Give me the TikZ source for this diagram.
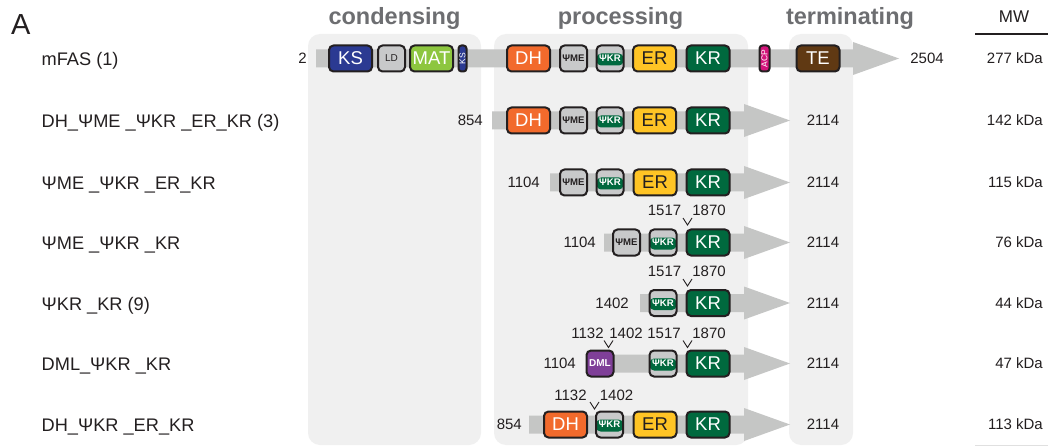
\documentclass[tikz,border=0pt]{standalone}
\usepackage{fontspec}
\setmainfont{Liberation Sans}

\definecolor{ink}{HTML}{231F20}
\definecolor{panelgray}{HTML}{F0F0F0}
\definecolor{bargray}{HTML}{C5C6C5}
\definecolor{boxgray}{HTML}{C8C9CA}
\definecolor{ksblue}{HTML}{2B3A92}
\definecolor{matgreen}{HTML}{8DC63F}
\definecolor{dhorange}{HTML}{F26A2C}
\definecolor{eryellow}{HTML}{FFC425}
\definecolor{krgreen}{HTML}{00693E}
\definecolor{acpmag}{HTML}{D3147B}
\definecolor{tebrown}{HTML}{603913}
\definecolor{dmlpurple}{HTML}{7F3F98}
\definecolor{titlegray}{HTML}{6D6E71}

% grey polypeptide bar ending in an arrow head: start, head base, tip, y
\newcommand{\fasbar}[4]{%
  \fill[bargray] (#1,#4-9) -- (#2,#4-9) -- (#2,#4-16.5) -- (#3,#4)
    -- (#2,#4+16.5) -- (#2,#4+9) -- (#1,#4+9) -- cycle;}
% small "v" marking a construct boundary: x, top y
\newcommand{\cutv}[2]{%
  \draw[ink, line width=0.9pt] (#1-4.5,#2) -- (#1,#2+7) -- (#1+4.5,#2);}

\tikzset{
  panel/.style={fill=panelgray, rounded corners=12pt},
  title/.style={anchor=base, inner sep=0pt, text=titlegray,
    font=\fontsize{23.5}{23.5}\selectfont\bfseries},
  lbl/.style={anchor=base west, inner sep=0pt, text=ink,
    font=\fontsize{18.2}{18.2}\selectfont},
  numL/.style={anchor=east, inner sep=0pt, text=ink,
    font=\fontsize{15}{15}\selectfont},
  numC/.style={anchor=center, inner sep=0pt, text=ink,
    font=\fontsize{15}{15}\selectfont},
  mwval/.style={anchor=east, inner sep=0pt, text=ink,
    font=\fontsize{15}{15}\selectfont},
  dom/.style={draw=ink, line width=2pt, rounded corners=4.5pt, inner sep=0pt,
    minimum height=26pt, text=white},
  bigdom/.style={dom, minimum width=43pt,
    font=\fontsize{18.5}{18.5}\selectfont},
  smalldom/.style={dom, minimum width=27pt, fill=boxgray, text=ink,
    font=\fontsize{10}{10}\selectfont},
  medom/.style={smalldom, font=\fontsize{9.6}{9.6}\selectfont\bfseries},
  krdom/.style={smalldom, text=white, font=\fontsize{9.6}{9.6}\selectfont\bfseries,
    path picture={\fill[krgreen]
      ([yshift=6pt]path picture bounding box.south west) rectangle
      ([yshift=-8pt]path picture bounding box.north east);}},
  dmldom/.style={smalldom, fill=dmlpurple, text=white,
    font=\fontsize{10}{10}\selectfont\bfseries},
  narrowdom/.style={dom, rotate=90, rounded corners=3pt, minimum width=26pt,
    minimum height=8pt, font=\fontsize{8.5}{8.5}\selectfont},
}

\begin{document}
\begin{tikzpicture}[x=1pt, y=-1pt]
\fill[white] (0,0) rectangle (1048,446);
\useasboundingbox (0,0) rectangle (1048,446);

% module panels
\fill[panel] (308,34) rectangle (481,445);
\fill[panel] (494,34) rectangle (748,445);
\fill[panel] (789,34) rectangle (853,445);

% headings
\node[anchor=base west, inner sep=0pt, text=ink,
  font=\fontsize{29}{29}\selectfont] (panelA) at (11,35) {A};
\node[title] (tcond) at (394.5,25) {condensing};
\node[title] (tproc) at (620.5,25) {processing};
\node[title] (tterm) at (850,25) {terminating};
\node[anchor=base, inner sep=0pt, text=ink,
  font=\fontsize{17}{17}\selectfont] (mwhead) at (1014,23) {MW};
\draw[ink, line width=2pt] (975,34) -- (1048,34);
\draw[black!12, line width=1pt] (975,445.5) -- (1048,445.5);

% ---- row 1: mFAS (1)
\node[lbl] (r1l) at (41.5,65.5) {mFAS (1)};
\fasbar{316}{853}{899}{58.5}
\node[numL] (r1s) at (307,58.5) {2};
\node[bigdom, fill=ksblue] (r1ks) at (350.5,58.5) {KS};
\node[smalldom] (r1ld) at (391.5,58.5) {LD};
\node[bigdom, fill=matgreen] (r1mat) at (431.5,58.5) {MAT};
\node[narrowdom, fill=ksblue] (r1ksb) at (462.5,58.5) {KS};
\node[bigdom, fill=dhorange] (r1dh) at (528.5,58.5) {DH};
\node[medom] (r1me) at (573.5,58.5) {ΨME};
\node[krdom] (r1pkr) at (610,58.5) {ΨKR};
\node[bigdom, fill=eryellow, text=ink] (r1er) at (654.5,58.5) {ER};
\node[bigdom, fill=krgreen] (r1kr) at (708,58.5) {KR};
\node[narrowdom, fill=acpmag, minimum height=10pt] (r1acp) at (764.5,58.5) {ACP};
\node[bigdom, fill=tebrown] (r1te) at (818,58.5) {TE};
\node[numC] (r1e) at (927,58.5) {2504};
\node[mwval] (r1mw) at (1043,58.5) {277 kDa};

% ---- row 2
\node[lbl] (r2l) at (41.5,127.5) {DH\_ΨME \_ΨKR \_ER\_KR (3)};
\fasbar{492}{744}{790}{120.5}
\node[numL] (r2s) at (483,120.5) {854};
\node[bigdom, fill=dhorange] (r2dh) at (528.5,120.5) {DH};
\node[medom] (r2me) at (573.5,120.5) {ΨME};
\node[krdom] (r2pkr) at (610,120.5) {ΨKR};
\node[bigdom, fill=eryellow, text=ink] (r2er) at (654.5,120.5) {ER};
\node[bigdom, fill=krgreen] (r2kr) at (708,120.5) {KR};
\node[numC] (r2e) at (823,120.5) {2114};
\node[mwval] (r2mw) at (1043,120.5) {142 kDa};

% ---- row 3
\node[lbl] (r3l) at (41.5,189.5) {ΨME \_ΨKR \_ER\_KR};
\fasbar{550}{744}{790}{182.5}
\node[numL] (r3s) at (540,182.5) {1104};
\node[medom] (r3me) at (573.5,182.5) {ΨME};
\node[krdom] (r3pkr) at (610,182.5) {ΨKR};
\node[bigdom, fill=eryellow, text=ink] (r3er) at (655,182.5) {ER};
\node[bigdom, fill=krgreen] (r3kr) at (708,182.5) {KR};
\node[numC] (r3e) at (823,182.5) {2114};
\node[mwval] (r3mw) at (1043,182.5) {115 kDa};

% ---- row 4
\node[lbl] (r4l) at (41.5,249.5) {ΨME \_ΨKR \_KR};
\node[numC] (r4a) at (664.5,210) {1517};
\node[numC] (r4b) at (709,210) {1870};
\cutv{687.5}{218}
\fasbar{604}{744}{790}{242.5}
\node[numL] (r4s) at (596,242.5) {1104};
\node[medom] (r4me) at (626.5,242.5) {ΨME};
\node[krdom] (r4pkr) at (663,242.5) {ΨKR};
\node[bigdom, fill=krgreen] (r4kr) at (708,242.5) {KR};
\node[numC] (r4e) at (823,242.5) {2114};
\node[mwval] (r4mw) at (1043,242.5) {76 kDa};

% ---- row 5
\node[lbl] (r5l) at (41.5,310) {ΨKR \_KR (9)};
\node[numC] (r5a) at (664.5,271) {1517};
\node[numC] (r5b) at (709,271) {1870};
\cutv{687.5}{279}
\fasbar{640}{744}{790}{303}
\node[numL] (r5s) at (629,303) {1402};
\node[krdom] (r5pkr) at (663,303) {ΨKR};
\node[bigdom, fill=krgreen] (r5kr) at (708,303) {KR};
\node[numC] (r5e) at (823,303) {2114};
\node[mwval] (r5mw) at (1043,303) {44 kDa};

% ---- row 6
\node[lbl] (r6l) at (41.5,370.5) {DML\_ΨKR \_KR};
\node[numC] (r6a) at (587.5,333) {1132};
\node[numC] (r6b) at (626,333) {1402};
\node[numC] (r6c) at (664,333) {1517};
\node[numC] (r6d) at (709,333) {1870};
\cutv{608.5}{340.5}
\cutv{687.5}{340.5}
\fasbar{590}{744}{790}{363.5}
\node[numL] (r6s) at (576,363.5) {1104};
\node[dmldom] (r6dml) at (600,363.5) {DML};
\node[krdom] (r6pkr) at (663,363.5) {ΨKR};
\node[bigdom, fill=krgreen] (r6kr) at (708,363.5) {KR};
\node[numC] (r6e) at (823,363.5) {2114};
\node[mwval] (r6mw) at (1043,363.5) {47 kDa};

% ---- row 7
\node[lbl] (r7l) at (41.5,431.5) {DH\_ΨKR \_ER\_KR};
\node[numC] (r7a) at (570.5,395) {1132};
\node[numC] (r7b) at (616.5,395) {1402};
\cutv{594.5}{402}
\fasbar{529}{744}{790}{424.5}
\node[numL] (r7s) at (522,424.5) {854};
\node[bigdom, fill=dhorange] (r7dh) at (565.5,424.5) {DH};
\node[krdom] (r7pkr) at (609.5,424.5) {ΨKR};
\node[bigdom, fill=eryellow, text=ink] (r7er) at (655,424.5) {ER};
\node[bigdom, fill=krgreen] (r7kr) at (708,424.5) {KR};
\node[numC] (r7e) at (823,424.5) {2114};
\node[mwval] (r7mw) at (1043,424.5) {113 kDa};
\end{tikzpicture}
\end{document}
